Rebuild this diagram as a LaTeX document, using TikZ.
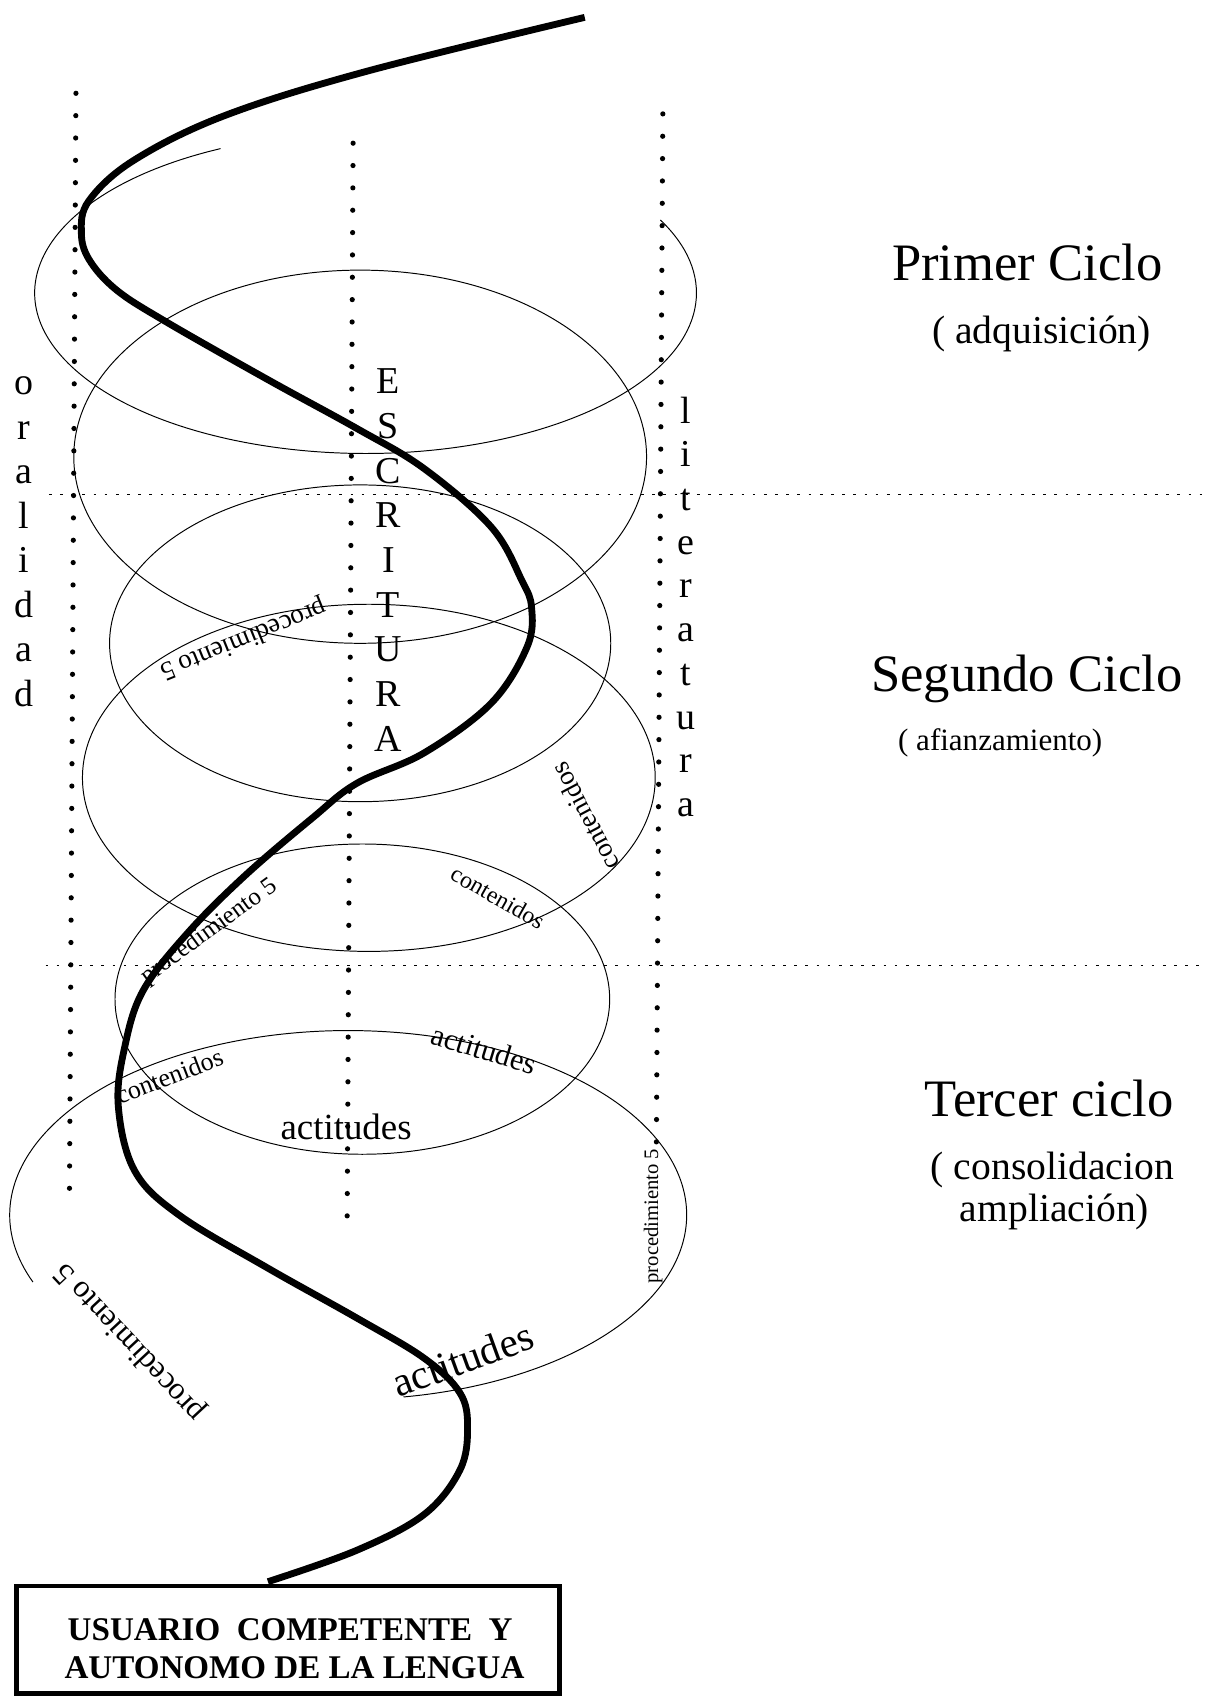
\documentclass[tikz,border=0pt]{standalone}
\usepackage{fontspec}
\setmainfont{Liberation Serif}
\newcommand{\tam}[1]{\fontsize{#1}{#1}\selectfont}

\begin{document}
\begin{tikzpicture}[x=1pt,y=-1pt,
	elipse/.style={line width=0.9pt},
	espiral/.style={line width=6.3pt},
	puntos/.style={line width=4.8pt, line cap=round, dash pattern=on 0pt off 20.6pt},
	trazos/.style={line width=1.3pt, dash pattern=on 2.5pt off 7.8pt},
	letra/.style={anchor=base, inner sep=0pt, font=\tam{35}},
	ciclo/.style={anchor=base, inner sep=0pt, font=\tam{48.5}},
	etapa/.style={anchor=base, inner sep=0pt, font=\tam{36.5}},
	rotulo/.style={inner sep=0pt}]
					\useasboundingbox (0,0) rectangle (1113,1568);
					
					%LINEAS DE PUNTOS
					\draw[puntos] (70,86) -- (64,1106);
					\draw[puntos] (325.5,132) -- (320,1128);
					\draw[puntos] (611,105) -- (605,1062);
					\draw[trazos] (45,456) -- (1113,456);
					\draw[trazos] (42,890) -- (1113,890);
					
					%ELIPSES
					\draw[elipse] (337,270) ++(-116:305 and 148) arc[start angle=-116, end angle=-387, x radius=305, y radius=148];
					\draw[elipse] (332,421) ellipse[x radius=264, y radius=172];
					\draw[elipse] (332,593) ellipse[x radius=231, y radius=146];
					\draw[elipse] (340,717) ellipse[x radius=264, y radius=160];
					\draw[elipse] (334,921) ellipse[x radius=228, y radius=143];
					\draw[elipse] (321,1120) ++(-201.3:312 and 170) arc[start angle=-201.3, end angle=80.6, x radius=312, y radius=170];
					
					%EJES VERTICALES
					\foreach \car [count=\i from 0] in {o,r,a,l,i,d,a,d}
						\node[letra] (oral-\i) at (22,364+41*\i) {\car};
					\foreach \car [count=\i from 0] in {E,S,C,R,I,T,U,R,A}
						\node[letra] (escr-\i) at (358,363+41.2*\i) {\car};
					\foreach \car [count=\i from 0] in {l,i,t,e,r,a,t,u,r,a}
						\node[letra] (lit-\i) at (632,390+40.3*\i) {\car};
					
					%ESPIRAL
					\coordinate (inicio) at (539,16);
					\coordinate (fin) at (247,1458);
					\draw[espiral] plot[smooth, tension=0.6] coordinates {(inicio) (337,66) (206,107) (123,148) (82,185) (75,214) (82,239) (107,267) (152,296) (247,350) (329,395) (391,432) (453,486) (481,535) (490,560) (486,596) (453,648) (391,694) (329,722) (288,754) (226,807) (173,860) (132,913) (115,965) (109,1019) (124,1079) (165,1120) (247,1169) (329,1215) (391,1252) (424,1284) (431,1316) (424,1355) (391,1396) (329,1429) (fin)};
					
					%ROTULOS
					\node[rotulo, rotate=-158, font=\tam{25}] (proc-1) at (224,589) {procedimiento 5};
					\node[rotulo, rotate=36, font=\tam{23}] (proc-2) at (193,859) {procedimiento 5};
					\node[rotulo, rotate=118, font=\tam{25}] (cont-1) at (539,753) {contenidos};
					\node[rotulo, rotate=-29.5, font=\tam{22}] (cont-2) at (459,827) {contenidos};
					\node[rotulo, rotate=-17, font=\tam{28}] (acti-1) at (446,967) {actitudes};
					\node[rotulo, rotate=21, font=\tam{24}] (cont-3) at (156,992) {contenidos};
					\node[rotulo, anchor=base, font=\tam{34}] (acti-2) at (319,1050) {actitudes};
					\node[rotulo, rotate=90, font=\tam{19}] (proc-3) at (602,1121) {procedimiento 5};
					\node[rotulo, rotate=133, font=\tam{29}] (proc-4) at (120,1237) {procedimiento 5};
					\node[rotulo, rotate=20, font=\tam{38}] (acti-3) at (426.5,1253) {actitudes};
					
					%CICLOS
					\node[ciclo] (primer) at (947,259) {Primer Ciclo};
					\node[etapa] (adquis) at (960,317) {( adquisición)};
					\node[ciclo] (segundo) at (946.5,637) {Segundo Ciclo};
					\node[etapa, font=\tam{28.6}] (afianz) at (922,692) {( afianzamiento)};
					\node[ciclo] (tercer) at (967,1029) {Tercer ciclo};
					\node[etapa] (consol) at (970,1087) {( consolidacion};
					\node[etapa] (amplia) at (972,1126) {ampliación)};
					
					%CUADRO
					\node[draw, line width=4.5pt, minimum width=501pt, minimum height=99pt, inner sep=0pt] (usuario) at (265.5,1511.5) {};
					\node[anchor=base, inner sep=0pt, font=\tam{30.5}\bfseries] (linea-1) at (267.5,1512) {USUARIO~~COMPETENTE~~Y};
					\node[anchor=base, inner sep=0pt, font=\tam{30.5}\bfseries] (linea-2) at (271.5,1547) {AUTONOMO DE LA LENGUA};
					
\end{tikzpicture}
\end{document}
